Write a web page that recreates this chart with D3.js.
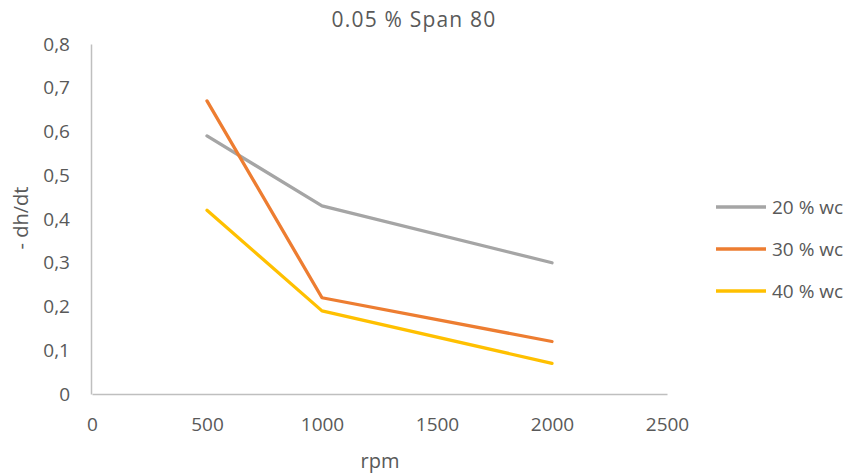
<!DOCTYPE html>
<html>
<head>
<meta charset="utf-8">
<script src="https://cdn.jsdelivr.net/npm/d3@7"></script>
<style>
  html, body { margin: 0; padding: 0; background: #fff; }
  svg { display: block; font-family: "Open Sans", Lato, sans-serif; }
</style>
</head>
<body>
<svg id="chart" width="850" height="475"></svg>
<script>
// rpm settings and -dh/dt readings per water content
const rpm = [500, 1000, 2000];
const wc20 = [0.59, 0.43, 0.30];
const wc30 = [0.67, 0.22, 0.12];
const wc40 = [0.42, 0.19, 0.07];
const seriesNames = ["20 % wc", "30 % wc", "40 % wc"];
const xTicks = [0, 500, 1000, 1500, 2000, 2500];
const yTicks = [0, 0.1, 0.2, 0.3, 0.4, 0.5, 0.6, 0.7, 0.8];

const colors = ["#a5a5a5", "#ed7d31", "#ffc000"];
const series = [wc20, wc30, wc40].map((vals, i) => ({
  name: seriesNames[i],
  color: colors[i],
  points: rpm.map((r, j) => ({ x: r, y: vals[j] }))
}));

const svg = d3.select("#chart");
const textColor = "#595959";
const axisColor = "#bfbfbf";
const font = "'Open Sans', Lato, sans-serif";

const x = d3.scaleLinear().domain([0, 2500]).range([92, 667]);
const y = d3.scaleLinear().domain([0, 0.8]).range([394, 44]);

// title
svg.append("text")
  .attr("x", 414).attr("y", 27)
  .attr("text-anchor", "middle")
  .attr("fill", textColor)
  .style("font-size", "21px")
  .style("letter-spacing", "1.2px")
  .text("0.05 % Span 80");

// axes (lines only, no tick marks)
const yAxis = d3.axisLeft(y).tickValues(yTicks).tickSize(0).tickPadding(21)
  .tickFormat(d => d === 0 ? "0" : d3.format(".1f")(d).replace(".", ","));
const xAxis = d3.axisBottom(x).tickValues(xTicks).tickSize(0).tickPadding(24)
  .tickFormat(d3.format("d"));

const gy = svg.append("g").attr("transform", "translate(91,0)").call(yAxis);
const gx = svg.append("g").attr("transform", "translate(0,394)").call(xAxis);
[gx, gy].forEach(g => {
  g.select(".domain").attr("stroke", axisColor).attr("stroke-width", 1.5);
  g.selectAll("text").attr("fill", textColor).style("font-size", "19px")
    .style("font-family", font);
});

// axis titles
svg.append("text")
  .attr("x", 380).attr("y", 468)
  .attr("text-anchor", "middle")
  .attr("fill", textColor)
  .style("font-size", "20px")
  .text("rpm");
svg.append("text")
  .attr("transform", "translate(28,218) rotate(-90)")
  .attr("text-anchor", "middle")
  .attr("fill", textColor)
  .style("font-size", "20px")
  .text("- dh/dt");

// series lines
const line = d3.line().x(d => x(d.x)).y(d => y(d.y));
svg.append("g").selectAll("path")
  .data(series)
  .join("path")
  .attr("d", d => line(d.points))
  .attr("fill", "none")
  .attr("stroke", d => d.color)
  .attr("stroke-width", 3.3)
  .attr("stroke-linecap", "round")
  .attr("stroke-linejoin", "round");

// legend
const legend = svg.append("g").selectAll("g")
  .data(series)
  .join("g")
  .attr("transform", (d, i) => `translate(716,${207 + i * 42})`);
legend.append("line")
  .attr("x1", 0).attr("x2", 50)
  .attr("stroke", d => d.color)
  .attr("stroke-width", 3.3);
legend.append("text")
  .attr("x", 56).attr("y", 6.5)
  .attr("fill", textColor)
  .style("font-size", "19px")
  .text(d => d.name);
</script>
</body>
</html>
